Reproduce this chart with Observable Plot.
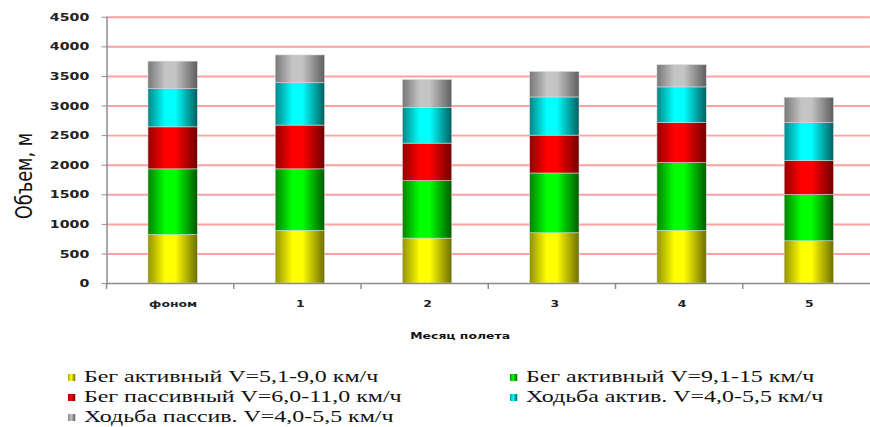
<!DOCTYPE html>
<html>
<head>
<meta charset="utf-8">
<script src="https://cdn.jsdelivr.net/npm/d3@7"></script>
<script src="https://cdn.jsdelivr.net/npm/@observablehq/plot@0.6"></script>
<style>
  html, body { margin: 0; padding: 0; background: #fff; overflow: hidden; width: 870px; height: 427px; }
  #wrap { position: relative; width: 870px; height: 427px; overflow: hidden; }
  #chart { position: absolute; left: 0; top: 0; }
  .item { position: absolute; white-space: nowrap; transform-origin: left center;
          font-family: "Liberation Serif", "Times New Roman", "DejaVu Serif", serif; font-size: 16.5px; color: #111; }
  .sw { display: inline-block; width: 5px; height: 7px; margin-right: 6px; vertical-align: 1px; }
</style>
</head>
<body>
<div id="wrap">
  <div id="chart"></div>
  <div id="legend"></div>
</div>
<script>
// Monthly volume of movement by type, stacked per month
const categories = ["фоном", "1", "2", "3", "4", "5"];
const seriesNames = [
  "Бег активный V=5,1-9,0 км/ч",
  "Бег активный V=9,1-15 км/ч",
  "Бег пассивный V=6,0-11,0 км/ч",
  "Ходьба актив. V=4,0-5,5 км/ч",
  "Ходьба пассив. V=4,0-5,5 км/ч"
];
const runActiveSlow  = [820, 890, 760, 850, 890, 715];
const runActiveFast  = [1110, 1040, 970, 1010, 1145, 780];
const runPassive     = [710, 740, 635, 640, 675, 575];
const walkActive     = [645, 715, 605, 645, 605, 640];
const walkPassive    = [465, 470, 470, 430, 375, 430];
const yTicks = [0, 500, 1000, 1500, 2000, 2500, 3000, 3500, 4000, 4500];
const xTitle = "Месяц полета";
const yTitle = "Объем, м";

const seriesValues = [runActiveSlow, runActiveFast, runPassive, walkActive, walkPassive];
// bright centre colour and dark edge colour of each cylinder-like bar
const bright = ["#ffff00", "#00ff00", "#ff0000", "#00ffff", "#c4c4c4"];
const dark   = ["#6e6e00", "#005a00", "#700000", "#005f5f", "#5e5e5e"];

const rows = [];
seriesNames.forEach((s, si) => {
  categories.forEach((c, ci) => rows.push({ month: c, series: s, value: seriesValues[si][ci] }));
});

const W = 882, H = 355, ML = 108, MR = 0, MT = 17, MB = 68;
const step = (W - ML - MR) / categories.length;

const chart = Plot.plot({
  width: W,
  height: H,
  marginLeft: ML,
  marginRight: MR,
  marginTop: MT,
  marginBottom: MB,
  style: { fontFamily: "DejaVu Sans, sans-serif", background: "transparent", overflow: "visible" },
  x: { domain: categories, paddingInner: 0.61, paddingOuter: 0.305, label: null },
  y: { domain: [0, 4500], label: null },
  color: { domain: seriesNames, range: seriesNames.map((_, i) => `url(#grad${i})`) },
  marks: [
    Plot.gridY(yTicks.filter(d => d > 0), { stroke: "#ff8a8a", strokeOpacity: 0.8, strokeWidth: 2 }),
    Plot.barY(rows, Plot.stackY({
      x: "month", y: "value", fill: "series", order: null, dx: 3,
      stroke: "#d8d8d8", strokeWidth: 0.6
    })),
    Plot.ruleY([0], { stroke: "#8c8c8c", strokeWidth: 1.5 }),
    Plot.frame({ anchor: "left", stroke: "#8c8c8c", strokeWidth: 1.5 }),
    Plot.ruleX(categories, { x: d => d, dx: -step / 2, y1: 0, y2: 0, insetBottom: -6, stroke: "#8c8c8c", strokeWidth: 1.5 }),
    Plot.axisY({ ticks: yTicks, tickSize: 5, tickPadding: 13, tickFormat: d => String(d),
      fontSize: 11.5, fontWeight: "bold", stroke: "#8c8c8c", fill: "#222", label: null }),
    Plot.axisX({ tickSize: 0, tickPadding: 17, fontSize: 9, fontWeight: "bold", fill: "#222", label: null, dx: 3 }),
    Plot.text([xTitle], { frameAnchor: "bottom", dx: -29, dy: 56, fontSize: 9, fontWeight: "bold", fill: "#111" }),
    Plot.text([yTitle], { frameAnchor: "left", textAnchor: "middle", dx: -83, dy: 26, rotate: -90, fontSize: 18, fill: "#111" })
  ]
});

// gradient definitions giving the bars their shaded, cylindrical look
const svg = d3.select(chart);
const defs = svg.insert("defs", ":first-child");
bright.forEach((b, i) => {
  const g = defs.append("linearGradient").attr("id", `grad${i}`)
    .attr("x1", "0").attr("x2", "1").attr("y1", "0").attr("y2", "0");
  g.append("stop").attr("offset", "0%").attr("stop-color", d3.interpolateRgb(dark[i], b)(0.25));
  g.append("stop").attr("offset", "35%").attr("stop-color", b);
  g.append("stop").attr("offset", "55%").attr("stop-color", b);
  g.append("stop").attr("offset", "100%").attr("stop-color", dark[i]);
});

// widen the small axis texts horizontally
function stretch(sel, sx, sy) {
  sel.each(function () {
    const t = this.getAttribute("transform") || "";
    this.setAttribute("transform", `${t} scale(${sx},${sy})`);
  });
}
stretch(svg.selectAll("g[aria-label='y-axis tick label'] text"), 1.25, 1);
stretch(svg.selectAll("g[aria-label='x-axis tick label'] text"), 1.4, 1);
svg.selectAll("g[aria-label='text'] text").each(function () {
  const txt = this.textContent;
  if (txt === xTitle) stretch(d3.select(this), 1.4, 1);
  if (txt === yTitle) stretch(d3.select(this), 1, 1.25);
});

document.getElementById("chart").appendChild(chart);

// legend in two columns below the chart
const legend = document.getElementById("legend");
const pos = [[68, 367], [510, 367], [68, 387], [510, 387], [68, 407]];
seriesNames.forEach((s, i) => {
  const d = document.createElement("div");
  d.className = "item";
  d.style.left = pos[i][0] + "px";
  d.style.top = pos[i][1] + "px";
  d.style.transform = "scaleX(1.45)";
  const sw = document.createElement("span");
  sw.className = "sw";
  sw.style.background = `linear-gradient(to right, ${d3.interpolateRgb(dark[i], bright[i])(0.4)}, ${bright[i]} 45%, ${dark[i]})`;
  d.appendChild(sw);
  d.appendChild(document.createTextNode(s));
  legend.appendChild(d);
});
</script>
</body>
</html>
